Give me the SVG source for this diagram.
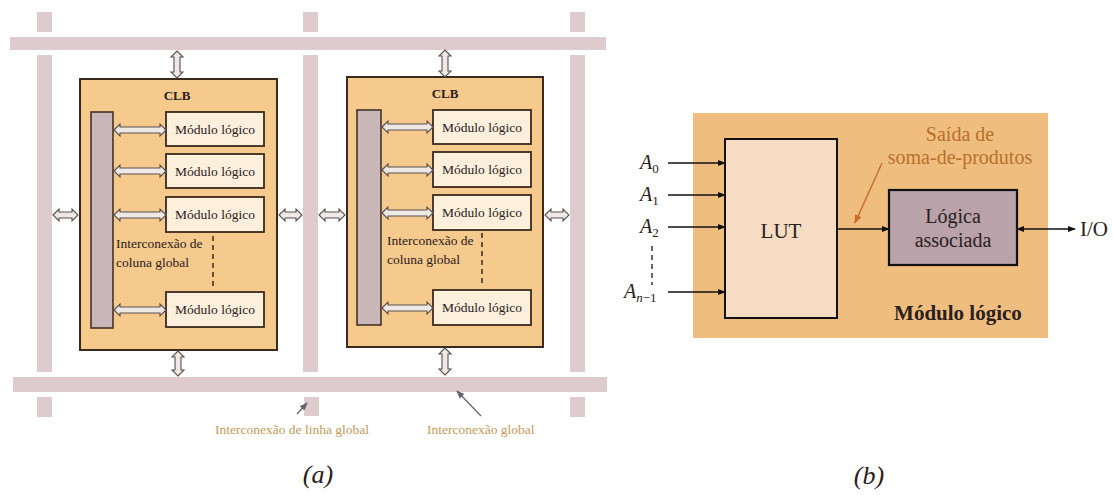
<svg xmlns="http://www.w3.org/2000/svg" width="1114" height="495" viewBox="0 0 1114 495">
<defs>
<style>
.bar{fill:#ddcbcd}
.clb{fill:#f6c98c;stroke:#3a2a1e;stroke-width:2}
.col{fill:#c9b6b9;stroke:#3a2a1e;stroke-width:1.5}
.mod{fill:#fcefdc;stroke:#3a2a1e;stroke-width:1.8}
.dar{fill:#efe9e6;stroke:#5a5050;stroke-width:1.1}
.t{font-family:'Liberation Serif','DejaVu Serif','Times New Roman',serif;fill:#2a2020}
.m{font-size:13.5px;text-anchor:middle}
.lab{font-size:13.5px;fill:#c49a5a}
.ln{stroke:#111;stroke-width:1.5;fill:none}
.dash{stroke:#3a2a1e;stroke-width:1.5;stroke-dasharray:5,4;fill:none}
</style>
<marker id="ah" viewBox="0 0 10 10" refX="9" refY="5" markerWidth="8" markerHeight="8" orient="auto-start-reverse" markerUnits="userSpaceOnUse"><path d="M0,1 L10,5 L0,9 Z" fill="#111"/></marker>
<marker id="aho" viewBox="0 0 10 10" refX="9" refY="5" markerWidth="9" markerHeight="9" orient="auto" markerUnits="userSpaceOnUse"><path d="M0,1 L10,5 L0,9 Z" fill="#c8702a"/></marker>
<marker id="ahg" viewBox="0 0 10 10" refX="9" refY="5" markerWidth="8" markerHeight="8" orient="auto" markerUnits="userSpaceOnUse"><path d="M0,1 L10,5 L0,9 Z" fill="#606070"/></marker>
</defs>
<rect width="1114" height="495" fill="#ffffff"/>

<g id="interconnect">
<rect class="bar" x="10" y="37" width="596" height="13"/>
<rect class="bar" x="13" y="377" width="594" height="15"/>
<rect class="bar" x="37" y="12" width="15" height="20"/>
<rect class="bar" x="37" y="55" width="15" height="317"/>
<rect class="bar" x="37" y="397" width="15" height="20"/>
<rect class="bar" x="303" y="12" width="15" height="20"/>
<rect class="bar" x="303" y="55" width="15" height="317"/>
<rect class="bar" x="304" y="397" width="15" height="19"/>
<rect class="bar" x="570" y="12" width="15" height="20"/>
<rect class="bar" x="570" y="55" width="15" height="317"/>
<rect class="bar" x="570" y="397" width="15" height="20"/>
</g>

<g id="clb1">
<rect class="clb" x="80" y="79" width="197" height="271"/>
<text class="t" x="177" y="100" font-size="13" font-weight="bold" text-anchor="middle">CLB</text>
<rect class="col" x="91" y="112" width="22" height="216"/>
<rect class="mod" x="166" y="112" width="98" height="34"/>
<text class="t m" x="215" y="134">Módulo lógico</text>
<rect class="mod" x="166" y="154" width="98" height="34"/>
<text class="t m" x="215" y="176">Módulo lógico</text>
<rect class="mod" x="166" y="197" width="98" height="35"/>
<text class="t m" x="215" y="219">Módulo lógico</text>
<rect class="mod" x="166" y="292" width="98" height="35"/>
<text class="t m" x="215" y="314">Módulo lógico</text>
<text class="t" x="116" y="248" font-size="13.5">Interconexão de</text>
<text class="t" x="116" y="267" font-size="13.5">coluna global</text>
<line class="dash" x1="213" y1="236" x2="213" y2="287"/>
</g>

<g id="clb2">
<rect class="clb" x="347" y="77" width="196" height="270"/>
<text class="t" x="445" y="98" font-size="13" font-weight="bold" text-anchor="middle">CLB</text>
<rect class="col" x="357" y="110" width="24" height="215"/>
<rect class="mod" x="433" y="110" width="98" height="34"/>
<text class="t m" x="482" y="132">Módulo lógico</text>
<rect class="mod" x="433" y="152" width="98" height="35"/>
<text class="t m" x="482" y="174">Módulo lógico</text>
<rect class="mod" x="433" y="195" width="98" height="35"/>
<text class="t m" x="482" y="217">Módulo lógico</text>
<rect class="mod" x="433" y="290" width="98" height="35"/>
<text class="t m" x="482" y="312">Módulo lógico</text>
<text class="t" x="387" y="245" font-size="13.5">Interconexão de</text>
<text class="t" x="387" y="264" font-size="13.5">coluna global</text>
<line class="dash" x1="482" y1="233" x2="482" y2="285"/>
</g>

<g id="connectors">
<polygon class="dar" points="114,130 120,124 120,127 160,127 160,124 166,130 160,136 160,133 120,133 120,136"/>
<polygon class="dar" points="114,171 120,165 120,168 160,168 160,165 166,171 160,177 160,174 120,174 120,177"/>
<polygon class="dar" points="114,215 120,209 120,212 160,212 160,209 166,215 160,221 160,218 120,218 120,221"/>
<polygon class="dar" points="114,310 120,304 120,307 160,307 160,304 166,310 160,316 160,313 120,313 120,316"/>
<polygon class="dar" points="382,127 388,121 388,124 427,124 427,121 433,127 427,133 427,130 388,130 388,133"/>
<polygon class="dar" points="382,170 388,164 388,167 427,167 427,164 433,170 427,176 427,173 388,173 388,176"/>
<polygon class="dar" points="382,213 388,207 388,210 427,210 427,207 433,213 427,219 427,216 388,216 388,219"/>
<polygon class="dar" points="382,308 388,302 388,305 427,305 427,302 433,308 427,314 427,311 388,311 388,314"/>
<polygon class="dar" points="53,215 59,209 59,212 72,212 72,209 78,215 72,221 72,218 59,218 59,221"/>
<polygon class="dar" points="279,215 285,209 285,212 296,212 296,209 302,215 296,221 296,218 285,218 285,221"/>
<polygon class="dar" points="319,215 325,209 325,212 339,212 339,209 345,215 339,221 339,218 325,218 325,221"/>
<polygon class="dar" points="545,215 551,209 551,212 563,212 563,209 569,215 563,221 563,218 551,218 551,221"/>
<polygon class="dar" points="177,51 183,57 180,57 180,72 183,72 177,78 171,72 174,72 174,57 171,57"/>
<polygon class="dar" points="178,351 184,357 181,357 181,370 184,370 178,376 172,370 175,370 175,357 172,357"/>
<polygon class="dar" points="445,50 451,56 448,56 448,71 451,71 445,77 439,71 442,71 442,56 439,56"/>
<polygon class="dar" points="445,348 451,354 448,354 448,369 451,369 445,375 439,369 442,369 442,354 439,354"/>
<line x1="297" y1="414" x2="307" y2="403" stroke="#606070" stroke-width="1.2" marker-end="url(#ahg)"/>
<line x1="481" y1="416" x2="457" y2="391" stroke="#606070" stroke-width="1.2" marker-end="url(#ahg)"/>
</g>

<g id="labels-a">
<text class="t lab" x="215" y="434">Interconexão de linha global</text>
<text class="t lab" x="427" y="434">Interconexão global</text>
<text class="t" x="318" y="483" font-size="26" font-style="italic" text-anchor="middle">(a)</text>
</g>

<g id="logic-module">
<rect x="693" y="113" width="355" height="225" fill="#efbe7e"/>
<text class="t" x="958" y="320" font-size="21" font-weight="bold" text-anchor="middle">Módulo lógico</text>
<text class="t" x="960" y="141" font-size="20" text-anchor="middle" style="fill:#b8702e">Saída de</text>
<text class="t" x="960" y="164" font-size="20" text-anchor="middle" style="fill:#b8702e">soma-de-produtos</text>
</g>

<g id="lut">
<rect x="725" y="139" width="112" height="179" fill="#f6dcc2" stroke="#111" stroke-width="2"/>
<text class="t" x="781" y="238" font-size="21" text-anchor="middle">LUT</text>
</g>

<g id="logica">
<rect x="889" y="190" width="128" height="75" fill="#b9a2aa" stroke="#111" stroke-width="2.2"/>
<text class="t" x="953" y="223" font-size="20" text-anchor="middle">Lógica</text>
<text class="t" x="953" y="247" font-size="20" text-anchor="middle">associada</text>
</g>

<g id="inputs">
<text class="t" x="640" y="169" font-size="20" font-style="italic">A<tspan font-size="13" dy="4" font-style="normal">0</tspan></text>
<text class="t" x="640" y="201" font-size="20" font-style="italic">A<tspan font-size="13" dy="4" font-style="normal">1</tspan></text>
<text class="t" x="640" y="233" font-size="20" font-style="italic">A<tspan font-size="13" dy="4" font-style="normal">2</tspan></text>
<text class="t" x="624" y="298" font-size="20" font-style="italic">A<tspan font-size="13" dy="4">n</tspan><tspan font-size="13" font-style="normal">−1</tspan></text>
<line x1="652" y1="246" x2="652" y2="285" stroke="#333" stroke-width="1.5" stroke-dasharray="5,4"/>
</g>

<g id="connectors-b">
<line class="ln" x1="668" y1="163" x2="725" y2="163" marker-end="url(#ah)"/>
<line class="ln" x1="668" y1="195" x2="725" y2="195" marker-end="url(#ah)"/>
<line class="ln" x1="668" y1="227" x2="725" y2="227" marker-end="url(#ah)"/>
<line class="ln" x1="668" y1="292" x2="725" y2="292" marker-end="url(#ah)"/>
<line class="ln" x1="837" y1="229" x2="889" y2="229" marker-end="url(#ah)"/>
<line class="ln" x1="1017" y1="229" x2="1075" y2="229" marker-start="url(#ah)" marker-end="url(#ah)"/>
<line x1="882" y1="163" x2="855" y2="223" stroke="#c8702a" stroke-width="1.5" marker-end="url(#aho)"/>
<text class="t" x="1080" y="236" font-size="21">I/O</text>
</g>

<text class="t" x="869" y="484" font-size="26" font-style="italic" text-anchor="middle">(b)</text>
</svg>
